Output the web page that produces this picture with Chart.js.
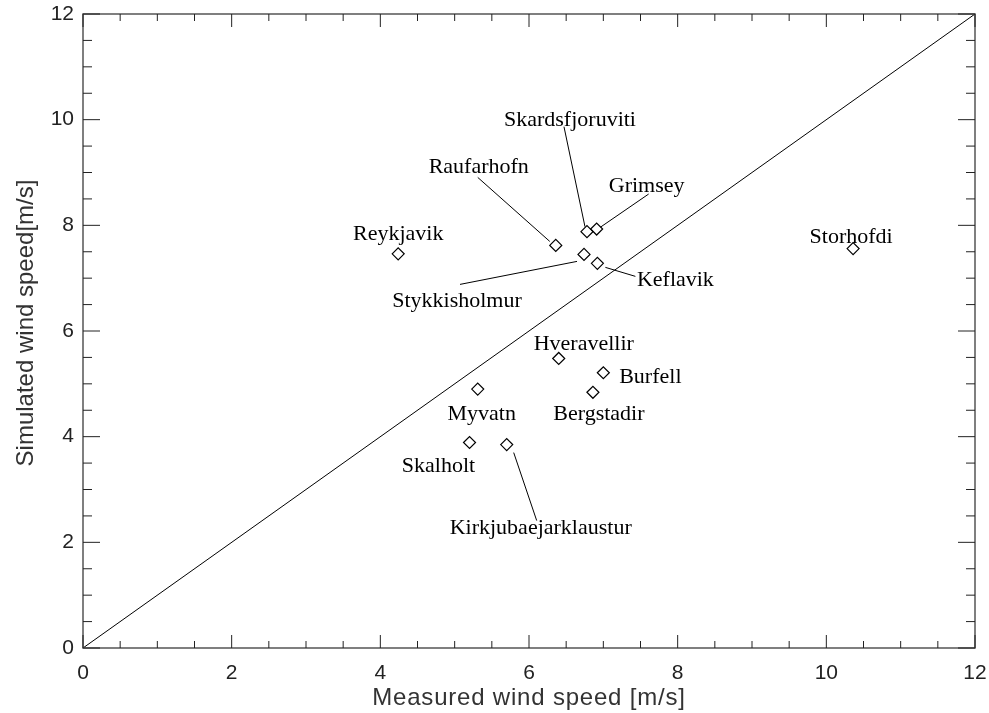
<!DOCTYPE html>
<html>
<head>
<meta charset="utf-8">
<script src="https://cdn.jsdelivr.net/npm/chart.js@4.4.1/dist/chart.umd.min.js"></script>
<style>
  html, body { margin: 0; padding: 0; background: #fff; }
  #wrap { width: 989px; height: 713px; }
</style>
</head>
<body>
<div id="wrap"><canvas id="chart" width="989" height="713"></canvas></div>
<script>
// station data (measured vs simulated mean wind speed, m/s)
const stations = ['Reykjavik', 'Raufarhofn', 'Skardsfjoruviti', 'Grimsey', 'Stykkisholmur', 'Keflavik',
    'Storhofdi', 'Hveravellir', 'Burfell', 'Bergstadir', 'Myvatn', 'Skalholt', 'Kirkjubaejarklaustur'];
const measured  = [4.24, 6.36, 6.78, 6.91, 6.74, 6.92, 10.36, 6.40, 7.00, 6.86, 5.31, 5.20, 5.70];
const simulated = [7.46, 7.62, 7.88, 7.93, 7.45, 7.28, 7.56, 5.48, 5.21, 4.84, 4.90, 3.89, 3.85];

// 1:1 reference line
const diagX = [0, 12];
const diagY = [0, 12];

const axisTicks = [0, 2, 4, 6, 8, 10, 12];

// label placement in pixels relative to each marker (text centre x, baseline y)
const labelOffsets = [
    [0, -14], [-77, -72], [-17, -106], [50, -37], [-127, 53], [78, 23],
    [-2, -6], [25, -8], [47, 10], [6, 28], [4, 31], [-31, 30], [34, 89]
];
// leader lines, pixels relative to marker [x1, y1, x2, y2]
const leaders = [
    null, [-78, -68, -6, -4], [-23, -105, -2, -5], [52, -35, 4, -2], [-124, 30, -7, 7], [8, 4, 38, 13],
    null, null, null, null, null, null, [7, 8, 30, 76]
];

const annotate = {
    id: 'annotate',
    afterDraw(chart) {
        const ctx = chart.ctx;
        const xs = chart.scales.x, ys = chart.scales.y;
        const area = chart.chartArea;

        ctx.save();
        // station names + leader lines
        ctx.font = '22px "Liberation Serif", "Times New Roman", serif';
        ctx.fillStyle = '#000';
        ctx.textAlign = 'center';
        ctx.textBaseline = 'alphabetic';
        ctx.strokeStyle = '#000';
        ctx.lineWidth = 1;
        stations.forEach((name, i) => {
            const px = xs.getPixelForValue(measured[i]);
            const py = ys.getPixelForValue(simulated[i]);
            ctx.fillText(name, px + labelOffsets[i][0], py + labelOffsets[i][1]);
            const l = leaders[i];
            if (l) {
                ctx.beginPath();
                ctx.moveTo(px + l[0], py + l[1]);
                ctx.lineTo(px + l[2], py + l[3]);
                ctx.stroke();
            }
        });

        // frame
        ctx.strokeStyle = '#555';
        ctx.lineWidth = 1.5;
        ctx.strokeRect(area.left, area.top, area.right - area.left, area.bottom - area.top);

        // inward ticks on all four sides, minor every 0.5
        ctx.strokeStyle = '#222';
        ctx.lineWidth = 1;
        ctx.beginPath();
        for (let v = 0; v <= 12.001; v += 0.5) {
            const major = Math.abs(v % 2) < 0.001;
            const tx = xs.getPixelForValue(v);
            const ty = ys.getPixelForValue(v);
            const lx = major ? 13 : 7;
            const ly = major ? 17 : 9;
            ctx.moveTo(tx, area.bottom); ctx.lineTo(tx, area.bottom - lx);
            ctx.moveTo(tx, area.top); ctx.lineTo(tx, area.top + lx);
            ctx.moveTo(area.left, ty); ctx.lineTo(area.left + ly, ty);
            ctx.moveTo(area.right, ty); ctx.lineTo(area.right - ly, ty);
        }
        ctx.stroke();

        // axis titles
        ctx.fillStyle = '#333';
        ctx.font = '24px "Liberation Sans", Arial, sans-serif';
        ctx.textAlign = 'center';
        ctx.letterSpacing = '0.8px';
        ctx.fillText('Measured wind speed [m/s]', (area.left + area.right) / 2, 705);
        ctx.letterSpacing = '0px';
        ctx.translate(33, 323);
        ctx.rotate(-Math.PI / 2);
        ctx.fillText('Simulated wind speed[m/s]', 0, 0);
        ctx.restore();
    }
};

const tickFont = { family: '"Liberation Sans", Arial, sans-serif', size: 21 };

// keep the plot box fixed: drop label overflow padding the scales ask for
function fixBox(s, size) {
    if (s.isHorizontal()) s.height = size; else s.width = size;
    s.paddingTop = 0; s.paddingBottom = 0; s.paddingLeft = 0; s.paddingRight = 0;
}

new Chart(document.getElementById('chart'), {
    type: 'scatter',
    data: {
        datasets: [
            {
                data: measured.map((m, i) => ({ x: m, y: simulated[i] })),
                pointStyle: 'rectRot',
                pointRadius: 6,
                pointHoverRadius: 6,
                pointBackgroundColor: 'rgba(255,255,255,0)',
                pointBorderColor: '#000',
                pointBorderWidth: 1.2
            },
            {
                data: diagX.map((x, i) => ({ x: x, y: diagY[i] })),
                showLine: true,
                borderColor: '#000',
                borderWidth: 1,
                pointRadius: 0
            }
        ]
    },
    options: {
        responsive: false,
        animation: false,
        layout: { padding: { top: 14, right: 14, left: 0, bottom: 0 } },
        plugins: { legend: { display: false }, tooltip: { enabled: false } },
        scales: {
            x: {
                type: 'linear', min: 0, max: 12,
                afterBuildTicks: s => { s.ticks = axisTicks.map(v => ({ value: v })); },
                ticks: { font: tickFont, color: '#222', padding: 13, maxRotation: 0 },
                grid: { display: false, drawTicks: false },
                border: { display: false },
                afterFit: s => fixBox(s, 65)
            },
            y: {
                type: 'linear', min: 0, max: 12,
                afterBuildTicks: s => { s.ticks = axisTicks.map(v => ({ value: v })); },
                ticks: { font: tickFont, color: '#222', padding: 9 },
                grid: { display: false, drawTicks: false },
                border: { display: false },
                afterFit: s => fixBox(s, 83)
            }
        }
    },
    plugins: [annotate]
});
</script>
</body>
</html>
